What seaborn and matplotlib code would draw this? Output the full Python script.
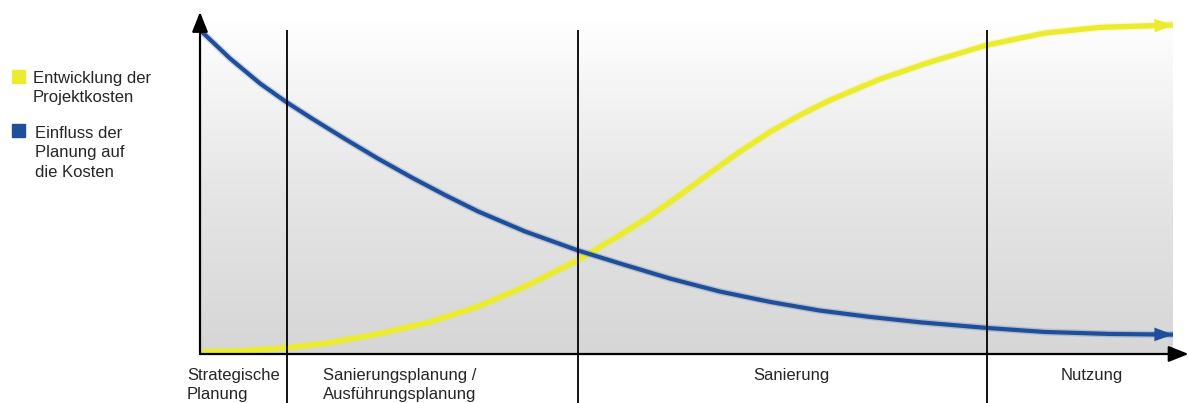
import numpy as np
import pandas as pd
import seaborn as sns
import matplotlib.pyplot as plt
import matplotlib.patheffects as pe
from matplotlib.colors import LinearSegmentedColormap
from matplotlib.patches import Rectangle

# Projektverlauf (0..100)
x_kosten = [0, 4.11, 8.74, 13.16, 18.29, 23.43, 28.57, 33.40, 38.85, 43.17, 46.25, 49.33,
            52.42, 55.19, 58.58, 61.97, 64.75, 69.89, 75.03, 80.88, 86.84, 92.50, 100]
kosten = [0.6, 0.9, 1.8, 3.3, 6.0, 9.4, 14.2, 20.2, 28.1, 35.6, 41.3, 47.6,
          54.2, 60.0, 66.5, 72.0, 76.0, 82.3, 87.4, 92.5, 96.1, 97.8, 98.5]
x_einfluss = [0, 3.08, 6.17, 8.84, 11.51, 14.90, 18.29, 21.79, 25.18, 28.57, 33.40, 38.85,
              43.17, 48.30, 53.44, 58.58, 63.72, 68.86, 74.00, 80.88, 86.84, 93.53, 100]
einfluss = [97.0, 88.5, 81.0, 75.5, 70.5, 64.4, 58.5, 52.8, 47.6, 42.7, 36.7, 31.0,
            27.1, 22.6, 18.7, 15.6, 13.0, 11.1, 9.5, 7.8, 6.6, 6.0, 5.8]

grenzen = [8.9, 38.8, 80.9]
phasen = ['Strategische\nPlanung', 'Sanierungsplanung /\nAusführungsplanung', 'Sanierung', 'Nutzung']
reihen = ['Entwicklung der\nProjektkosten', 'Einfluss der\nPlanung auf\ndie Kosten']
farben = ['#ecec2e', '#1f4f9a']

sns.set_style('white')
plt.rcParams['font.family'] = ['Liberation Sans', 'DejaVu Sans']

df = pd.concat([pd.DataFrame({'x': x_kosten, 'y': kosten, 'reihe': reihen[0]}),
                pd.DataFrame({'x': x_einfluss, 'y': einfluss, 'reihe': reihen[1]})])

W, H = 1188, 403
fig = plt.figure(figsize=(W / 100, H / 100), dpi=100)
ax = fig.add_axes([200 / W, (H - 354) / H, 973 / W, (354 - 20) / H])

# Hintergrund-Verlauf
cmap = LinearSegmentedColormap.from_list('bg', ['#d6d6d6', '#e6e6e6', '#ffffff'])
ax.imshow(np.linspace(0, 1, 256)[:, None], extent=[0, 100, 0, 100], origin='lower',
          aspect='auto', cmap=cmap, zorder=0)

sns.lineplot(data=df, x='x', y='y', hue='reihe', palette=farben, legend=False, ax=ax,
             sort=False, linewidth=3.3, zorder=2, solid_capstyle='butt')
lw = {reihen[0]: 3.8, reihen[1]: 3.0}
for line, r, c in zip(ax.get_lines(), reihen, farben):
    line.set_linewidth(lw[r])
    line.set_solid_joinstyle('round')
    line.set_path_effects([pe.Stroke(linewidth=lw[r] + 2, foreground=c, alpha=0.2), pe.Normal()])

# Pfeilspitzen an den Kurvenenden
for xs, vals, c in zip([x_kosten, x_einfluss], [kosten, einfluss], farben):
    ax.annotate('', xy=(xs[-1], vals[-1]), xytext=(xs[-2], vals[-2]),
                arrowprops=dict(arrowstyle='-|>,head_length=0.6,head_width=0.22', color=c,
                                lw=0.1, mutation_scale=22, shrinkA=0, shrinkB=0),
                annotation_clip=False, zorder=3)

ax.set_xlim(0, 100)
ax.set_ylim(0, 100)
ax.axis('off')

# Achsen mit Pfeilen
pfeil = dict(arrowstyle='-|>,head_length=0.55,head_width=0.22', color='black', lw=1.6,
             mutation_scale=22, shrinkA=0, shrinkB=0)
ax.annotate('', xy=(0, 102.4), xytext=(0, 0), arrowprops=pfeil, annotation_clip=False, zorder=5)
ax.annotate('', xy=(101.6, 0), xytext=(0, 0), arrowprops=pfeil, annotation_clip=False, zorder=5)

# Phasengrenzen
ax.vlines(grenzen, -14.8, 97.0, color='black', lw=1.3, clip_on=False, zorder=4)

# Phasenbeschriftung
ax.text(-1.35, -4.2, phasen[0], ha='left', va='top', fontsize=12, linespacing=1.3)
ax.text(12.6, -4.2, phasen[1], ha='left', va='top', fontsize=12, linespacing=1.3)
ax.text(60.8, -4.2, phasen[2], ha='center', va='top', fontsize=12)
ax.text(91.7, -4.2, phasen[3], ha='center', va='top', fontsize=12)

# Legende
for (top, sq), lab, c, tx in zip([(71, 70), (126, 124)], reihen, farben, [33, 35]):
    fig.add_artist(Rectangle((12 / W, (H - sq - 13) / H), 13 / W, 13 / H,
                             transform=fig.transFigure, color=c))
    fig.text(tx / W, (H - top) / H, lab, ha='left', va='top', fontsize=12, linespacing=1.36)

fig.savefig('out.png', dpi=100)
